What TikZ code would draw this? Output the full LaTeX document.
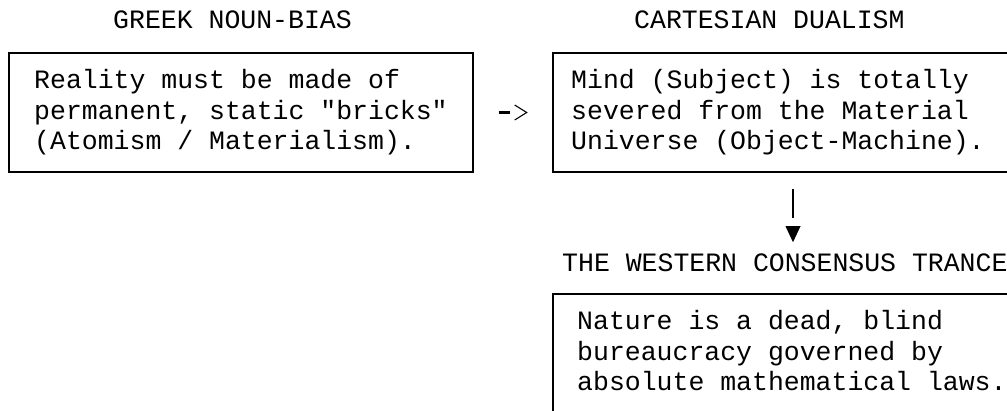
\documentclass[tikz,border=0pt]{standalone}
\usepackage{fontspec}
\setmonofont{Liberation Mono}
\usetikzlibrary{positioning}

\begin{document}
\begin{tikzpicture}[x=1pt, y=-1pt]
            \tikzset{panel/.style={draw, line width=2pt, minimum width=480pt, minimum height=119.5pt, inner sep=0pt}}
            \tikzset{mono/.style={font=\ttfamily\fontsize{26.5}{30.5}\selectfont, anchor=base west, inner sep=0pt}}
            \tikzset{shaft/.style={line width=2.2pt}}
            \useasboundingbox (0, 0) rectangle (1007, 411);
            % titles
            \node[mono] (tGreek) at (113, 29) {GREEK NOUN-BIAS};
            \node[mono] (tCart) at (634, 29) {CARTESIAN DUALISM};
            \node[mono] (tTrance) at (562, 272) {THE WESTERN CONSENSUS TRANCE};
            % boxes
            \node[panel, minimum width=464pt] (greek) at (241, 112.5) {};
            \node[panel] (cartesian) at (793, 112.5) {};
            \node[panel] (trance) at (793, 354) {};
            \foreach \txt [count=\i] in {Reality must be made of, {permanent, static "bricks"}, (Atomism / Materialism).} {
                \node[mono] (greek-\i) at (34, 58.5 + 30.5*\i) {\txt};
            }
            \foreach \txt [count=\i] in {Mind (Subject) is totally, severed from the Material, Universe (Object-Machine).} {
                \node[mono] (cart-\i) at (571, 58.5 + 30.5*\i) {\txt};
            }
            \foreach \txt [count=\i] in {{Nature is a dead, blind}, bureaucracy governed by, absolute mathematical laws.} {
                \node[mono] (trance-\i) at (577, 299.5 + 30.5*\i) {\txt};
            }
            % greek -> cartesian
            \draw[shaft] ([xshift=24.5pt]greek.east) -- ++(11, 0);
            \draw[line width=1.1pt] ([xshift=-37.3pt, yshift=7.5pt]cartesian.west) -- ([xshift=-25.3pt]cartesian.west) -- ([xshift=-37.3pt, yshift=-7.5pt]cartesian.west);
            % cartesian -> trance
            \draw[shaft] ([yshift=-16pt]cartesian.south) -- ++(0, 29);
            \fill ([yshift=-69pt]cartesian.south) -- ++(-7.5, -16) -- ++(15, 0) -- cycle;
\end{tikzpicture}
\end{document}
